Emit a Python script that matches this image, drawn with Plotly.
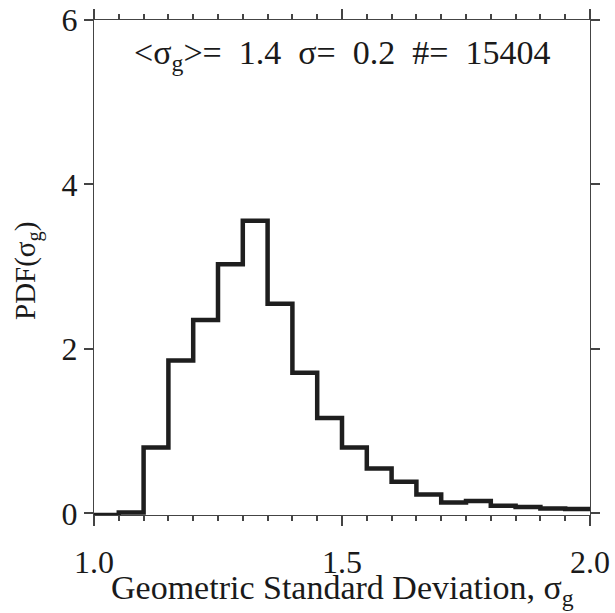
import plotly.graph_objects as go

bin_edges = [1.00, 1.05, 1.10, 1.15, 1.20, 1.25, 1.30, 1.35, 1.40, 1.45, 1.50,
             1.55, 1.60, 1.65, 1.70, 1.75, 1.80, 1.85, 1.90, 1.95, 2.00]
pdf_values = [-0.02, 0.01, 0.80, 1.86, 2.35, 3.03, 3.56, 2.55, 1.71, 1.16, 0.80,
              0.545, 0.385, 0.23, 0.133, 0.15, 0.093, 0.077, 0.06, 0.052]
y_ticks = [0, 2, 4, 6]
y_tick_labels = ["0", "2", "4", "6"]
stats_text = "&lt;σ<sub>g</sub>&gt;=  1.4  σ=  0.2  #=  15404"
x_title = "Geometric Standard Deviation, σ<sub>g</sub>"
y_title = "PDF(σ<sub>g</sub>)"

FONT = "Liberation Serif"
AXC = "#444444"
TXT = "#1a1a1a"

fig = go.Figure()
fig.add_trace(go.Scatter(
    x=bin_edges,
    y=pdf_values + [pdf_values[-1]],
    mode="lines",
    line=dict(shape="hv", color="#1e1e1e", width=4.5),
    showlegend=False,
    hoverinfo="skip",
))

fig.update_layout(
    width=615, height=613,
    margin=dict(l=94, r=25, t=20, b=98),
    paper_bgcolor="white", plot_bgcolor="white",
    font=dict(family=FONT, color=TXT),
    showlegend=False,
    xaxis=dict(
        range=[1.0, 2.0], automargin=False,
        tickmode="linear", tick0=1.0, dtick=0.5, tickformat=".1f",
        ticks="outside", ticklen=10, tickwidth=1.6, tickcolor=AXC,
        minor=dict(tickmode="linear", tick0=1.0, dtick=0.05, ticks="outside",
                   ticklen=5, tickwidth=1.6, tickcolor=AXC, showgrid=False),
        showline=True, linecolor=AXC, linewidth=1.2, mirror="allticks",
        showgrid=False, zeroline=False,
        ticklabelstandoff=8,
        tickfont=dict(size=32, family=FONT, color=TXT),
    ),
    yaxis=dict(
        range=[-0.02, 6.0], automargin=False,
        tickmode="array", tickvals=y_ticks, ticktext=y_tick_labels,
        ticks="outside", ticklen=9, tickwidth=1.6, tickcolor=AXC,
        showline=True, linecolor=AXC, linewidth=1.2, mirror="allticks",
        showgrid=False, zeroline=False,
        tickfont=dict(size=32, family=FONT, color=TXT),
    ),
    annotations=[
        dict(text=stats_text, xref="paper", yref="paper", x=0.50, y=0.975,
             xanchor="center", yanchor="top", showarrow=False,
             font=dict(size=34, family=FONT, color=TXT)),
        dict(text=x_title, xref="paper", yref="paper", x=0.50, y=-0.106,
             xanchor="center", yanchor="top", showarrow=False,
             font=dict(size=34, family=FONT, color=TXT)),
        dict(text=y_title, xref="paper", yref="paper", x=-0.133, y=0.493,
             xanchor="center", yanchor="middle", textangle=-90, showarrow=False,
             font=dict(size=29, family=FONT, color=TXT)),
    ],
)

fig.write_html("out.html")
